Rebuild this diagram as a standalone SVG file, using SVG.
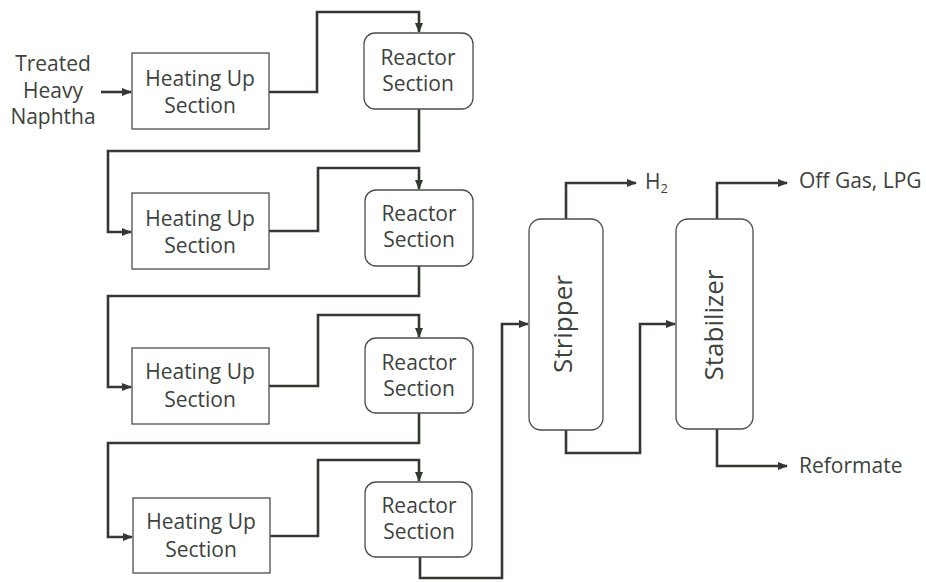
<svg xmlns="http://www.w3.org/2000/svg" width="926" height="582" viewBox="0 0 926 582">
<style>
.box{fill:#fff;stroke:#4a4f4a;stroke-width:1.3}
.t{font-family:"Open Sans","Liberation Sans",sans-serif;font-size:21px;fill:#3d423d;text-anchor:middle}
.tl{font-family:"Open Sans","Liberation Sans",sans-serif;font-size:21px;fill:#3d423d}
.big{font-family:"Open Sans","Liberation Sans",sans-serif;font-size:26px;fill:#3d423d;text-anchor:middle}
.c{fill:none;stroke:#333833;stroke-width:2.6;stroke-linejoin:miter}
</style>
<defs>
<marker id="a" markerWidth="10" markerHeight="8" refX="9" refY="4" orient="auto" markerUnits="userSpaceOnUse">
<path d="M0,0 L10,4 L0,8 Z" fill="#333833"/>
</marker>
</defs>
<rect width="926" height="582" fill="#fff"/>
<g id="connectors">
<path class="c" d="M101,92 H131" marker-end="url(#a)"/>
<path class="c" d="M269,92 H317 V12 H419 V32" marker-end="url(#a)"/>
<path class="c" d="M419,109 V151 H108 V232 H131" marker-end="url(#a)"/>
<path class="c" d="M269,231 H318 V168 H419 V189" marker-end="url(#a)"/>
<path class="c" d="M419,266 V296 H108 V387 H131" marker-end="url(#a)"/>
<path class="c" d="M269,386 H318 V315 H419 V337" marker-end="url(#a)"/>
<path class="c" d="M419,413 V443 H108 V537 H132" marker-end="url(#a)"/>
<path class="c" d="M270,536 H318 V460 H419 V481" marker-end="url(#a)"/>
<path class="c" d="M420,557 V578 H502 V324 H528" marker-end="url(#a)"/>
<path class="c" d="M566,219 V183 H636" marker-end="url(#a)"/>
<path class="c" d="M566,430 V453 H640 V324 H675" marker-end="url(#a)"/>
<path class="c" d="M717,219 V183 H787" marker-end="url(#a)"/>
<path class="c" d="M717,429 V466 H787" marker-end="url(#a)"/>
</g>
<g id="feed">
<text class="t" x="53" y="71">Treated</text>
<text class="t" x="53" y="98">Heavy</text>
<text class="t" x="53" y="124">Naphtha</text>
</g>
<g id="heater1">
<rect class="box" x="132" y="53" width="137" height="76"/>
<text class="t" x="200" y="86">Heating Up</text>
<text class="t" x="200" y="113">Section</text>
</g>
<g id="reactor1">
<rect class="box" x="364" y="33" width="109" height="76" rx="11"/>
<text class="t" x="418" y="65">Reactor</text>
<text class="t" x="418" y="91">Section</text>
</g>
<g id="heater2">
<rect class="box" x="132" y="193" width="137" height="76"/>
<text class="t" x="200" y="226">Heating Up</text>
<text class="t" x="200" y="253">Section</text>
</g>
<g id="reactor2">
<rect class="box" x="365" y="190" width="108" height="76" rx="11"/>
<text class="t" x="419" y="221">Reactor</text>
<text class="t" x="419" y="247">Section</text>
</g>
<g id="heater3">
<rect class="box" x="132" y="348" width="137" height="76"/>
<text class="t" x="200" y="379">Heating Up</text>
<text class="t" x="200" y="407">Section</text>
</g>
<g id="reactor3">
<rect class="box" x="365" y="338" width="108" height="75" rx="11"/>
<text class="t" x="419" y="370">Reactor</text>
<text class="t" x="419" y="396">Section</text>
</g>
<g id="heater4">
<rect class="box" x="133" y="498" width="137" height="75"/>
<text class="t" x="201" y="529">Heating Up</text>
<text class="t" x="201" y="557">Section</text>
</g>
<g id="reactor4">
<rect class="box" x="365" y="482" width="107" height="75" rx="11"/>
<text class="t" x="419" y="513">Reactor</text>
<text class="t" x="419" y="539">Section</text>
</g>
<g id="stripper">
<rect class="box" x="529" y="219" width="74" height="211" rx="12"/>
<text class="big" transform="translate(572,324) rotate(-90)">Stripper</text>
</g>
<g id="stabilizer">
<rect class="box" x="676" y="219" width="77" height="210" rx="12"/>
<text class="big" transform="translate(723,325) rotate(-90)">Stabilizer</text>
</g>
<g id="outputs">
<text class="tl" x="645" y="189">H<tspan font-size="13" dy="4">2</tspan></text>
<text class="tl" x="799" y="188">Off Gas, LPG</text>
<text class="tl" x="799" y="473">Reformate</text>
</g>
</svg>
